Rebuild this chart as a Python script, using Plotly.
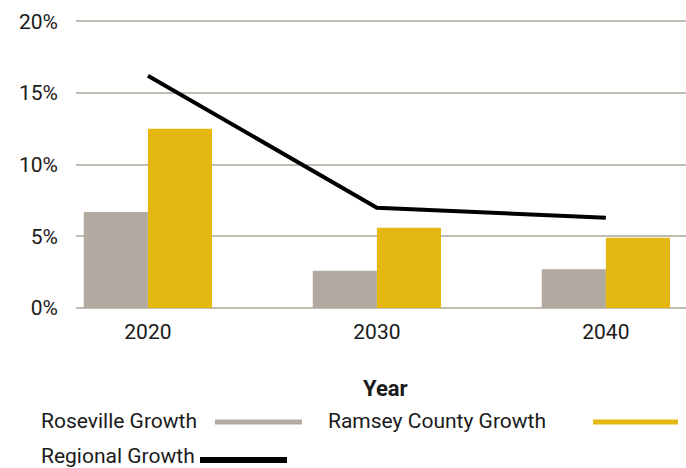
import plotly.graph_objects as go

# Growth rates by decade (percent)
years = ["2020", "2030", "2040"]
roseville_growth = [6.7, 2.6, 2.7]
ramsey_growth = [12.5, 5.6, 4.9]
regional_growth = [16.2, 7.0, 6.3]

series_names = ["Roseville Growth", "Ramsey County Growth", "Regional Growth"]
series_colors = ["#b2a9a0", "#e5b711", "#000000"]
y_ticks = [0, 5, 10, 15, 20]

W, H = 686, 468
ML, MR, MT, MB = 76, 0, 17, 160
PW, PH = W - ML - MR, H - MT - MB

FONT = "Roboto"
TEXT = "#1a1a1a"
GRID = "#c2bbb2"


def px_x(x):
    return (x - ML) / PW


def px_y(y):
    return (H - MB - y) / PH


fig = go.Figure()
fig.add_trace(go.Bar(x=years, y=roseville_growth, name=series_names[0],
                     marker=dict(color=series_colors[0], line=dict(width=0))))
fig.add_trace(go.Bar(x=years, y=ramsey_growth, name=series_names[1],
                     marker=dict(color=series_colors[1], line=dict(width=0))))
fig.add_trace(go.Scatter(x=years, y=regional_growth, name=series_names[2], mode="lines",
                         line=dict(color=series_colors[2], width=4)))

# Legend drawn below the chart: label followed by its line sample
legend_items = [
    (series_names[0], series_colors[0], 39, 421, 215, 302, 5),
    (series_names[1], series_colors[1], 326, 421, 593, 678, 5),
    (series_names[2], series_colors[2], 39, 456, 200, 287, 6),
]
annotations = []
shapes = []
for name, color, tx, ty, lx0, lx1, lw in legend_items:
    annotations.append(dict(
        text=name, x=px_x(tx), y=px_y(ty), xref="paper", yref="paper",
        xanchor="left", yanchor="middle", showarrow=False,
        font=dict(family=FONT, size=21, color=TEXT)))
    ly = ty + 1 if ty < 440 else ty + 4
    shapes.append(dict(
        type="line", xref="paper", yref="paper",
        x0=px_x(lx0), x1=px_x(lx1), y0=px_y(ly), y1=px_y(ly),
        line=dict(color=color, width=lw)))

annotations.append(dict(
    text="<b>Year</b>", x=px_x(385), y=px_y(389), xref="paper", yref="paper",
    xanchor="center", yanchor="middle", showarrow=False,
    font=dict(family=FONT, size=22, color=TEXT)))

fig.update_layout(
    width=W, height=H,
    margin=dict(l=ML, r=MR, t=MT, b=MB, pad=0),
    paper_bgcolor="white", plot_bgcolor="white",
    barmode="group", bargap=0.44, bargroupgap=0,
    showlegend=False,
    font=dict(family=FONT, color=TEXT),
    annotations=annotations,
    shapes=shapes,
)
fig.update_xaxes(
    type="category", range=[-0.314, 2.35],
    showgrid=False, showline=False, zeroline=False,
    ticks="", tickfont=dict(family=FONT, size=21, color=TEXT),
    ticklabelstandoff=9,
)
fig.update_yaxes(
    range=[0, 20.3], tickvals=y_ticks, ticktext=[f"{v}%" for v in y_ticks],
    showgrid=True, gridcolor=GRID, gridwidth=1.5,
    zeroline=True, zerolinecolor=GRID, zerolinewidth=1.5,
    showline=False, ticks="",
    tickfont=dict(family=FONT, size=21, color=TEXT),
    ticklabelstandoff=17,
)

fig.write_html("out.html")
